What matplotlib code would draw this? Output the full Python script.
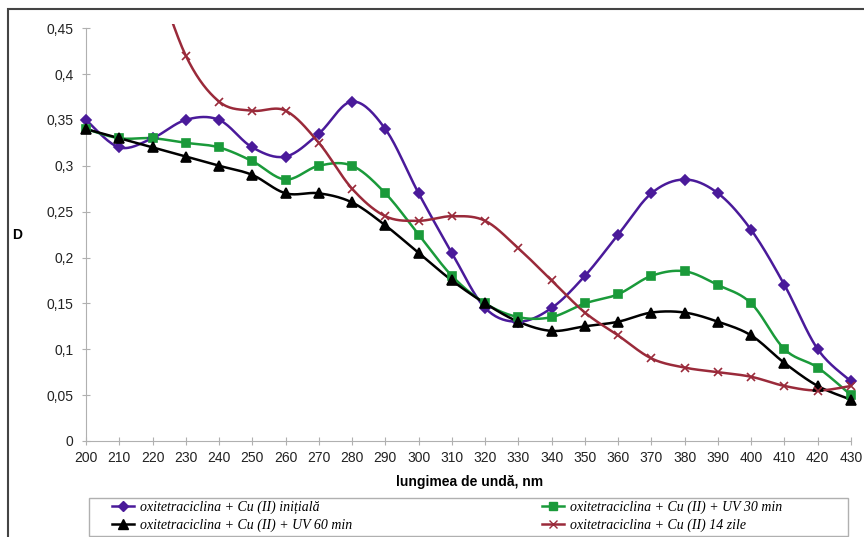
import numpy as np
import matplotlib.pyplot as plt
from matplotlib.lines import Line2D
from matplotlib.patches import Rectangle

# wavelengths, nm
wl = [200, 210, 220, 230, 240, 250, 260, 270, 280, 290, 300, 310,
      320, 330, 340, 350, 360, 370, 380, 390, 400, 410, 420, 430]

d_initial = [0.35, 0.32, 0.33, 0.35, 0.35, 0.32, 0.31, 0.335, 0.37, 0.34, 0.27, 0.205,
             0.145, 0.13, 0.145, 0.18, 0.225, 0.27, 0.285, 0.27, 0.23, 0.17, 0.10, 0.065]
d_uv30 = [0.34, 0.33, 0.33, 0.325, 0.32, 0.305, 0.285, 0.30, 0.30, 0.27, 0.225, 0.18,
          0.15, 0.135, 0.135, 0.15, 0.16, 0.18, 0.185, 0.17, 0.15, 0.10, 0.08, 0.05]
d_uv60 = [0.34, 0.33, 0.32, 0.31, 0.30, 0.29, 0.27, 0.27, 0.26, 0.235, 0.205, 0.175,
          0.15, 0.13, 0.12, 0.125, 0.13, 0.14, 0.14, 0.13, 0.115, 0.085, 0.06, 0.045]
wl_14 = wl[2:]
d_14days = [0.52, 0.42, 0.37, 0.36, 0.36, 0.325, 0.275, 0.245, 0.24, 0.245,
            0.24, 0.21, 0.175, 0.14, 0.115, 0.09, 0.08, 0.075, 0.07, 0.06, 0.055, 0.06]

labels = ["oxitetraciclina + Cu (II) inițială",
          "oxitetraciclina + Cu (II) + UV 30 min",
          "oxitetraciclina + Cu (II) + UV 60 min",
          "oxitetraciclina + Cu (II) 14 zile"]
yticks = [0, 0.05, 0.1, 0.15, 0.2, 0.25, 0.3, 0.35, 0.4, 0.45]


def smooth(x, y, n=20):
    # spreadsheet-style smoothed line: cubic Bezier through the points
    x = np.asarray(x, float)
    y = np.asarray(y, float)
    px = np.concatenate([[x[0]], x, [x[-1]]])
    py = np.concatenate([[y[0]], y, [y[-1]]])
    xs, ys = [], []
    t = np.linspace(0, 1, n)
    for i in range(1, len(px) - 2):
        p0 = np.array([px[i], py[i]])
        p3 = np.array([px[i + 1], py[i + 1]])
        p1 = p0 + (np.array([px[i + 1], py[i + 1]]) - np.array([px[i - 1], py[i - 1]])) / 6
        p2 = p3 - (np.array([px[i + 2], py[i + 2]]) - np.array([px[i], py[i]])) / 6
        b = ((1 - t) ** 3)[:, None] * p0 + (3 * (1 - t) ** 2 * t)[:, None] * p1 \
            + (3 * (1 - t) * t ** 2)[:, None] * p2 + (t ** 3)[:, None] * p3
        xs.extend(b[:, 0])
        ys.extend(b[:, 1])
    return xs, ys


plt.rcParams['font.family'] = ['Liberation Sans', 'DejaVu Sans']

fig = plt.figure(figsize=(8.64, 5.37), dpi=100)
ax = fig.add_axes([86 / 864, 1 - 441 / 537, (851 - 86) / 864, (441 - 24) / 537])

series = [
    (wl, d_initial, "#4a1a9a", "D", 5, False),
    (wl, d_uv30, "#1a9a3a", "s", 6, False),
    (wl, d_uv60, "#000000", "^", 7, False),
    (wl_14, d_14days, "#9a2a3a", "x", 6, True),
]
for x, y, c, m, ms, clip in series:
    sx, sy = smooth(x, y)
    ax.plot(sx, sy, color=c, lw=1.8, clip_on=clip, zorder=3)
    pts = [(a, b) for a, b in zip(x, y) if b <= 0.45]
    ax.plot([p[0] for p in pts], [p[1] for p in pts], ls="none", marker=m, ms=ms,
            color=c, mew=1.2, clip_on=False, zorder=4)

ax.set_xlim(200, 430)
ax.set_ylim(0, 0.4545)
ax.set_xticks(wl)
ax.set_yticks(yticks)
ax.set_yticklabels([("%g" % v).replace(".", ",") for v in yticks])
for s in ["top", "right"]:
    ax.spines[s].set_visible(False)
ax.spines["left"].set_bounds(0, 0.45)
for s in ["left", "bottom"]:
    ax.spines[s].set_color("#b0b0b0")
ax.tick_params(direction="inout", length=6, color="#b0b0b0", labelsize=10,
               labelcolor="#222222")
ax.tick_params(axis="y", pad=6)
ax.tick_params(axis="x", pad=4)

fig.text(17 / 864, 1 - 235 / 537, "D", fontweight="bold", fontsize=10,
         ha="center", va="center")
fig.text(470 / 864, 1 - 482 / 537, "lungimea de undă, nm", fontweight="bold",
         fontsize=10, ha="center", va="center")

# outer chart border
fig.patches.append(Rectangle((8 / 864, -0.05), 1.0, 1 - 9 / 537 + 0.05,
                             transform=fig.transFigure, fill=False,
                             edgecolor="#444444", lw=1.5))

# legend frame, two columns placed inside it
fig.patches.append(Rectangle((89 / 864, 1 / 537), (848 - 89) / 864, 38 / 537,
                             transform=fig.transFigure, fill=False,
                             edgecolor="#b0b0b0", lw=1.0))
handles = [Line2D([], [], color=c, marker=m, ms=ms, lw=1.8)
           for _, _, c, m, ms, _ in series]
leg_font = {"family": "Liberation Serif", "style": "italic", "size": 10}
for (i, j), x0 in [((0, 2), 109), ((1, 3), 539)]:
    fig.legend([handles[i], handles[j]], [labels[i], labels[j]],
               loc="upper left", bbox_to_anchor=(x0 / 864, 1 - 498 / 537),
               frameon=False, prop=leg_font, handlelength=1.6,
               handletextpad=0.4, borderpad=0.2, labelspacing=0.3,
               borderaxespad=0)

fig.savefig("out.png", dpi=100)
